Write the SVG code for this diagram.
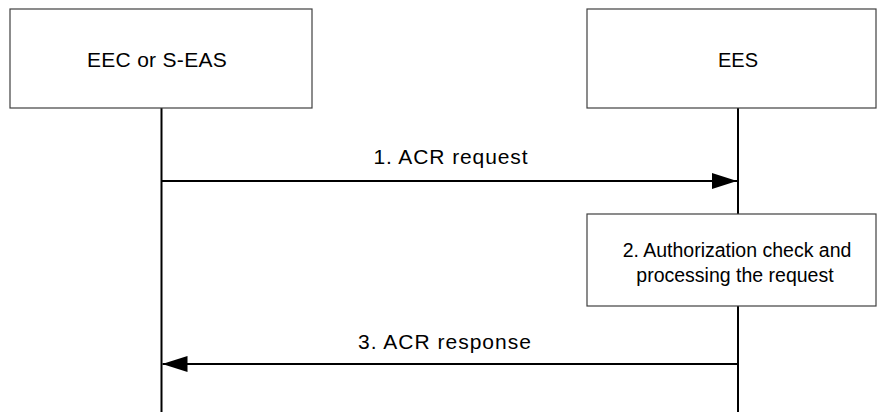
<svg xmlns="http://www.w3.org/2000/svg" width="877" height="412" viewBox="0 0 877 412">
  <style>
    .box { fill: #ffffff; stroke: #404040; stroke-width: 1.2; }
    .life { stroke: #000000; stroke-width: 2; fill: none; }
    .msg { stroke: #000000; stroke-width: 1.8; fill: none; }
    .t { font-family: "Liberation Sans", Arial, sans-serif; font-size: 21px; fill: #000000; text-anchor: middle; }
    .s { font-size: 19.5px; }
    .e { font-size: 20px; }
  </style>
  <defs>
    <marker id="ah" viewBox="0 0 25 16" refX="25" refY="8" markerWidth="25" markerHeight="16" markerUnits="userSpaceOnUse" orient="auto">
      <path d="M0,0 L25,8 L0,16 Z" fill="#000000"/>
    </marker>
  </defs>
  <rect width="877" height="412" fill="#ffffff"/>
  <g id="lifelines">
    <line class="life" x1="161.5" y1="108" x2="161.5" y2="412"/>
    <line class="life" x1="738" y1="108" x2="738" y2="214"/>
    <line class="life" x1="738" y1="306" x2="738" y2="412"/>
  </g>
  <g id="eec">
    <rect class="box" x="10" y="9" width="302" height="99"/>
    <text class="t" x="157" y="67" letter-spacing="0.3">EEC or S-EAS</text>
  </g>
  <g id="ees">
    <rect class="box" x="587" y="9" width="289" height="99"/>
    <text class="t e" x="738" y="67">EES</text>
  </g>
  <g id="proc">
    <rect class="box" x="587" y="214" width="289" height="92"/>
    <text class="t s" x="737" y="257">2. Authorization check and</text>
    <text class="t s" x="735" y="282">processing the request</text>
  </g>
  <g id="connectors">
    <line class="msg" x1="161.5" y1="181" x2="737" y2="181" marker-end="url(#ah)"/>
    <text class="t" x="451" y="164" letter-spacing="0.9">1. ACR request</text>
    <line class="msg" x1="738" y1="364" x2="162.5" y2="364" marker-end="url(#ah)"/>
    <text class="t" x="445" y="349" letter-spacing="1">3. ACR response</text>
  </g>
</svg>
